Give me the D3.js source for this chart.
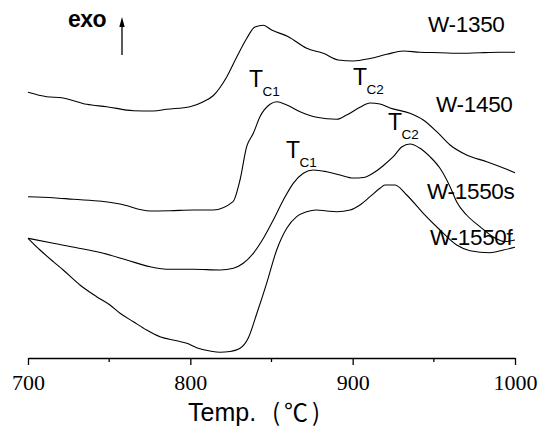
<!DOCTYPE html>
<html><head><meta charset="utf-8">
<script src="https://cdn.jsdelivr.net/npm/d3@7"></script>
<style>body{margin:0;background:#fff}svg{display:block}</style>
</head><body>
<svg id="c" width="540" height="428" xmlns="http://www.w3.org/2000/svg"></svg>
<script>
// Temperature (°C) and DTA signal (arbitrary units, offset per sample)
const w1350 = [[700,265.7],[711.5,261.3],[720.8,260.3],[736.2,253.7],[748.5,251.3],[764.9,247.3],[777.2,247],[785.4,248.7],[799.8,251.3],[808,256.3],[814.2,262.5],[822.4,281],[828.6,301],[834.7,319.5],[839.8,331],[845,332.7],[850.1,328],[860.4,321.3],[871.7,309.7],[881.9,304.7],[891.2,298],[900.4,297],[910.7,299.5],[921,303.7],[931.2,307],[941.5,305.7],[953.8,305.3],[966.1,304.7],[978.4,305.3],[990.8,305.7],[1000,305.7]];
const w1450 = [[700,161.3],[715.6,160.3],[727.9,158.7],[745.4,156.7],[756.7,154],[775.2,147],[787.5,147.3],[801.8,148],[814,148],[826.3,156.3],[830.6,178],[834.7,211.3],[838.8,224.7],[842.9,241.3],[849.1,253.7],[853.2,256.3],[859.4,253],[867.6,246.3],[877.8,240.7],[890.2,238.7],[896.3,243],[904.5,250.7],[910.7,255],[916.8,254],[923,250],[935.3,244.7],[943.5,238],[951.8,226.3],[960,213],[970.2,203],[982.6,196.3],[994.9,188.7],[1000,185.3]];
const w1550s = [[700,119.7],[715.6,114.7],[730,110.3],[746.4,104.7],[760.8,98],[775.2,91.3],[787.5,88.7],[801.8,88.7],[818.3,88],[826.5,89.7],[832.6,94.7],[838.8,104.7],[845,119.7],[851.1,138],[857.3,158],[863.4,174.7],[869.6,184.7],[875.8,188],[884,186.3],[892.2,183],[900.4,180],[906.6,180.5],[912.7,185],[918.8,192.3],[925,201.3],[930.2,211],[935.3,214],[941.5,209.7],[947.6,201.3],[953.8,189.7],[960,171.3],[964.1,156],[970.2,143],[978.4,131.3],[986.4,121.3],[993.8,116.5],[1000,118]];
const w1550f = [[700,119.7],[707.4,108],[715.6,96.3],[721.7,88],[732,73],[742.3,61.3],[750.5,53],[756.7,44.7],[764.9,36.3],[773.1,28],[781.3,21.3],[791.6,17.3],[797.8,14.7],[803.9,10.3],[812.1,7],[818.3,5.7],[824.4,6.5],[830.6,9.7],[835.7,20],[840.9,44.3],[847,74.7],[853.2,108],[859.4,129.7],[865.5,141.3],[871.7,146.3],[877.8,148],[884,147],[890.2,146.3],[898.4,148],[904.5,153],[910.7,161.3],[916.8,169.7],[919.9,173],[926.1,173],[933.3,163],[943.5,144.7],[953.8,128],[964.1,113],[972.3,107.3],[984.6,105.3],[992.8,108],[1000,110.7]];
const majorTicks = [700, 800, 900, 1000];
const minorTicks = [750, 850, 950];
const seriesNames = ["W-1350", "W-1450", "W-1550s", "W-1550f"];

const SANS = "'Liberation Sans', Arimo, Arial, sans-serif";
const SERIF = "'Liberation Serif', Tinos, 'Times New Roman', 'DejaVu Serif', serif";
const CJK = "'Noto Sans CJK SC', sans-serif";

const svg = d3.select("#c");
const x = d3.scaleLinear().domain([700, 1000]).range([28, 515]);
const y = d3.scaleLinear().domain([0, 358]).range([358, 0]);

const line = d3.line().x(d => x(d[0])).y(d => y(d[1])).curve(d3.curveMonotoneX);
[w1350, w1450, w1550s, w1550f].forEach(s => {
  svg.append("path").attr("d", line(s)).attr("fill", "none")
    .attr("stroke", "#000").attr("stroke-width", 1.1);
});

// axis
const ax = svg.append("g").attr("transform", "translate(0,358)")
  .call(d3.axisBottom(x).tickValues(majorTicks).tickSize(7).tickSizeOuter(0).tickFormat(d3.format("d")));
ax.attr("font-family", SERIF).attr("font-size", 22);
ax.select(".domain").attr("stroke", "#000").attr("stroke-width", 1.3);
ax.selectAll(".tick line").attr("stroke", "#000").attr("stroke-width", 1.3);
ax.selectAll(".tick text").attr("y", 32).attr("dy", 0)
  .style("font-family", SERIF).style("font-size", "22px").attr("fill", "#000");
svg.append("g").selectAll("line").data(minorTicks).join("line")
  .attr("x1", d => x(d)).attr("x2", d => x(d)).attr("y1", 358).attr("y2", 362)
  .attr("stroke", "#000").attr("stroke-width", 1.3);

// axis title
svg.append("text").attr("x", 188).attr("y", 421).style("font-family", SANS)
  .style("font-size", "25px").text("Temp.");
svg.append("text").attr("x", 272).attr("y", 421).style("font-family", CJK)
  .style("font-size", "24px").attr("textLength", 48).text("(℃)");

// exo arrow
svg.append("text").attr("x", 68).attr("y", 27).style("font-family", SANS)
  .style("font-weight", "bold").style("font-size", "23px").attr("letter-spacing", -0.5).text("exo");
svg.append("line").attr("x1", 122).attr("x2", 122).attr("y1", 55).attr("y2", 24)
  .attr("stroke", "#000").attr("stroke-width", 1.3);
svg.append("path").attr("d", "M122,17 L119.3,27 L124.7,27 Z").attr("fill", "#000");

// series labels
const labelPos = [[428, 32], [436, 112], [427, 199], [430, 245]];
svg.append("clipPath").attr("id", "clipR").append("rect").attr("x", 0).attr("y", 0).attr("width", 516).attr("height", 428);
seriesNames.forEach((n, i) => {
  const t = svg.append("text").attr("x", labelPos[i][0]).attr("y", labelPos[i][1])
    .style("font-family", SANS).style("font-size", "22.5px").attr("letter-spacing", -0.3).text(n);
  if (i === 3) t.attr("clip-path", "url(#clipR)");
});

// Tc labels
const tcLabels = [["C1", 249, 87], ["C1", 286, 158], ["C2", 353, 85], ["C2", 388, 130]];
tcLabels.forEach(([s, tx, ty]) => {
  svg.append("text").attr("x", tx).attr("y", ty).style("font-family", SANS)
    .style("font-size", "23px").text("T");
  svg.append("text").attr("x", tx + 13.5).attr("y", ty + 8.5).style("font-family", SANS)
    .style("font-size", "13.5px").text(s);
});
</script>
</body></html>
